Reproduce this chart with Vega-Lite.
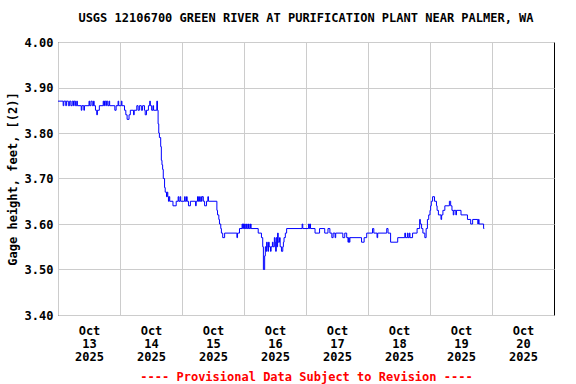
{
"$schema": "https://vega.github.io/schema/vega-lite/v6.json",
"width": 496, "height": 273,
"autosize": {"type": "none"},
"padding": {"left": 58, "top": 42, "right": 22, "bottom": 69},
"background": "white",
"title": {"text": "USGS 12106700 GREEN RIVER AT PURIFICATION PLANT NEAR PALMER, WA", "font": "DejaVu Sans Mono", "fontSize": 12, "fontWeight": "bold", "color": "black", "anchor": "middle", "frame": "group", "offset": 11},
"config": {"view": {"stroke": "black", "strokeWidth": 1}},
"data": {"values": [
{"t":"2025-10-13T00:00","v":3.87},{"t":"2025-10-13T02:00","v":3.86},{"t":"2025-10-13T02:15","v":3.87},{"t":"2025-10-13T03:00","v":3.86},{"t":"2025-10-13T03:15","v":3.87},{"t":"2025-10-13T04:00","v":3.86},{"t":"2025-10-13T04:30","v":3.87},{"t":"2025-10-13T05:00","v":3.86},{"t":"2025-10-13T05:30","v":3.87},{"t":"2025-10-13T06:00","v":3.86},{"t":"2025-10-13T06:15","v":3.87},{"t":"2025-10-13T06:45","v":3.86},{"t":"2025-10-13T07:15","v":3.87},{"t":"2025-10-13T07:30","v":3.86},{"t":"2025-10-13T09:00","v":3.85},{"t":"2025-10-13T09:15","v":3.86},{"t":"2025-10-13T10:00","v":3.85},{"t":"2025-10-13T10:15","v":3.86},{"t":"2025-10-13T12:00","v":3.87},{"t":"2025-10-13T12:15","v":3.86},{"t":"2025-10-13T12:45","v":3.87},{"t":"2025-10-13T13:15","v":3.86},{"t":"2025-10-13T13:45","v":3.87},{"t":"2025-10-13T14:00","v":3.86},{"t":"2025-10-13T14:30","v":3.85},{"t":"2025-10-13T15:00","v":3.84},{"t":"2025-10-13T15:15","v":3.85},{"t":"2025-10-13T16:00","v":3.86},{"t":"2025-10-13T17:30","v":3.87},{"t":"2025-10-13T17:45","v":3.86},{"t":"2025-10-13T18:00","v":3.87},{"t":"2025-10-13T18:30","v":3.86},{"t":"2025-10-13T18:45","v":3.87},{"t":"2025-10-13T19:15","v":3.86},{"t":"2025-10-13T19:45","v":3.87},{"t":"2025-10-13T20:00","v":3.86},{"t":"2025-10-13T22:00","v":3.85},{"t":"2025-10-13T22:30","v":3.86},{"t":"2025-10-13T23:15","v":3.87},{"t":"2025-10-13T23:30","v":3.86},
{"t":"2025-10-14T00:30","v":3.87},{"t":"2025-10-14T00:45","v":3.86},{"t":"2025-10-14T01:45","v":3.85},{"t":"2025-10-14T02:15","v":3.84},{"t":"2025-10-14T02:45","v":3.83},{"t":"2025-10-14T03:30","v":3.84},{"t":"2025-10-14T04:00","v":3.85},{"t":"2025-10-14T05:15","v":3.84},{"t":"2025-10-14T05:30","v":3.85},{"t":"2025-10-14T06:30","v":3.86},{"t":"2025-10-14T07:00","v":3.85},{"t":"2025-10-14T07:30","v":3.86},{"t":"2025-10-14T08:15","v":3.85},{"t":"2025-10-14T08:45","v":3.86},{"t":"2025-10-14T09:30","v":3.85},{"t":"2025-10-14T09:45","v":3.84},{"t":"2025-10-14T10:15","v":3.85},{"t":"2025-10-14T11:00","v":3.86},{"t":"2025-10-14T11:30","v":3.87},{"t":"2025-10-14T11:45","v":3.86},{"t":"2025-10-14T12:15","v":3.85},{"t":"2025-10-14T12:45","v":3.86},{"t":"2025-10-14T13:00","v":3.85},{"t":"2025-10-14T14:15","v":3.87},{"t":"2025-10-14T14:30","v":3.85},{"t":"2025-10-14T14:45","v":3.82},{"t":"2025-10-14T15:00","v":3.80},{"t":"2025-10-14T15:15","v":3.79},{"t":"2025-10-14T15:45","v":3.77},{"t":"2025-10-14T16:00","v":3.74},{"t":"2025-10-14T16:15","v":3.73},{"t":"2025-10-14T16:30","v":3.72},{"t":"2025-10-14T16:45","v":3.70},{"t":"2025-10-14T17:15","v":3.68},{"t":"2025-10-14T17:30","v":3.67},{"t":"2025-10-14T18:00","v":3.66},{"t":"2025-10-14T18:15","v":3.67},{"t":"2025-10-14T18:30","v":3.66},{"t":"2025-10-14T18:45","v":3.65},{"t":"2025-10-14T19:00","v":3.66},{"t":"2025-10-14T19:15","v":3.65},{"t":"2025-10-14T20:30","v":3.64},{"t":"2025-10-14T21:45","v":3.65},{"t":"2025-10-14T22:30","v":3.66},{"t":"2025-10-14T22:45","v":3.65},{"t":"2025-10-14T23:15","v":3.66},{"t":"2025-10-14T23:30","v":3.65},
{"t":"2025-10-15T01:00","v":3.66},{"t":"2025-10-15T01:15","v":3.65},{"t":"2025-10-15T01:45","v":3.66},{"t":"2025-10-15T02:00","v":3.65},{"t":"2025-10-15T02:30","v":3.64},{"t":"2025-10-15T03:15","v":3.65},{"t":"2025-10-15T05:15","v":3.64},{"t":"2025-10-15T05:30","v":3.65},{"t":"2025-10-15T06:00","v":3.66},{"t":"2025-10-15T06:15","v":3.65},{"t":"2025-10-15T06:30","v":3.66},{"t":"2025-10-15T06:45","v":3.65},{"t":"2025-10-15T07:15","v":3.66},{"t":"2025-10-15T07:30","v":3.65},{"t":"2025-10-15T07:45","v":3.66},{"t":"2025-10-15T08:15","v":3.65},{"t":"2025-10-15T08:45","v":3.64},{"t":"2025-10-15T09:30","v":3.65},{"t":"2025-10-15T10:00","v":3.66},{"t":"2025-10-15T10:15","v":3.65},{"t":"2025-10-15T13:30","v":3.63},{"t":"2025-10-15T13:45","v":3.62},{"t":"2025-10-15T14:15","v":3.61},{"t":"2025-10-15T14:30","v":3.60},{"t":"2025-10-15T15:00","v":3.59},{"t":"2025-10-15T15:15","v":3.58},{"t":"2025-10-15T15:45","v":3.57},{"t":"2025-10-15T16:30","v":3.58},{"t":"2025-10-15T21:15","v":3.57},{"t":"2025-10-15T21:30","v":3.58},{"t":"2025-10-15T22:15","v":3.59},{"t":"2025-10-15T23:15","v":3.60},{"t":"2025-10-15T23:30","v":3.59},{"t":"2025-10-15T23:45","v":3.60},
{"t":"2025-10-16T00:00","v":3.59},{"t":"2025-10-16T00:15","v":3.60},{"t":"2025-10-16T00:30","v":3.59},{"t":"2025-10-16T01:00","v":3.60},{"t":"2025-10-16T01:15","v":3.59},{"t":"2025-10-16T01:45","v":3.60},{"t":"2025-10-16T02:00","v":3.59},{"t":"2025-10-16T02:30","v":3.60},{"t":"2025-10-16T02:45","v":3.59},{"t":"2025-10-16T05:30","v":3.58},{"t":"2025-10-16T06:45","v":3.57},{"t":"2025-10-16T07:15","v":3.55},{"t":"2025-10-16T07:30","v":3.50},{"t":"2025-10-16T08:00","v":3.53},{"t":"2025-10-16T08:15","v":3.55},{"t":"2025-10-16T08:30","v":3.54},{"t":"2025-10-16T08:45","v":3.56},{"t":"2025-10-16T09:00","v":3.55},{"t":"2025-10-16T09:15","v":3.54},{"t":"2025-10-16T09:30","v":3.56},{"t":"2025-10-16T09:45","v":3.55},{"t":"2025-10-16T10:15","v":3.54},{"t":"2025-10-16T10:30","v":3.55},{"t":"2025-10-16T11:00","v":3.56},{"t":"2025-10-16T11:15","v":3.55},{"t":"2025-10-16T11:45","v":3.57},{"t":"2025-10-16T12:00","v":3.56},{"t":"2025-10-16T12:15","v":3.54},{"t":"2025-10-16T12:30","v":3.57},{"t":"2025-10-16T12:45","v":3.55},{"t":"2025-10-16T13:00","v":3.58},{"t":"2025-10-16T13:15","v":3.56},{"t":"2025-10-16T13:45","v":3.57},{"t":"2025-10-16T14:00","v":3.55},{"t":"2025-10-16T14:30","v":3.54},{"t":"2025-10-16T15:00","v":3.55},{"t":"2025-10-16T15:15","v":3.56},{"t":"2025-10-16T15:30","v":3.57},{"t":"2025-10-16T16:00","v":3.58},{"t":"2025-10-16T16:30","v":3.59},{"t":"2025-10-16T22:30","v":3.60},{"t":"2025-10-16T22:45","v":3.59},
{"t":"2025-10-17T01:00","v":3.60},{"t":"2025-10-17T01:15","v":3.59},{"t":"2025-10-17T01:30","v":3.60},{"t":"2025-10-17T01:45","v":3.59},{"t":"2025-10-17T03:30","v":3.58},{"t":"2025-10-17T05:15","v":3.59},{"t":"2025-10-17T07:15","v":3.58},{"t":"2025-10-17T08:30","v":3.59},{"t":"2025-10-17T09:15","v":3.58},{"t":"2025-10-17T10:00","v":3.57},{"t":"2025-10-17T10:30","v":3.58},{"t":"2025-10-17T11:15","v":3.57},{"t":"2025-10-17T11:30","v":3.58},{"t":"2025-10-17T14:15","v":3.57},{"t":"2025-10-17T15:00","v":3.58},{"t":"2025-10-17T15:45","v":3.57},{"t":"2025-10-17T16:15","v":3.56},{"t":"2025-10-17T16:30","v":3.57},{"t":"2025-10-17T16:45","v":3.56},{"t":"2025-10-17T17:00","v":3.57},{"t":"2025-10-17T21:30","v":3.56},{"t":"2025-10-17T22:30","v":3.57},{"t":"2025-10-17T23:30","v":3.58},
{"t":"2025-10-18T01:45","v":3.59},{"t":"2025-10-18T02:15","v":3.58},{"t":"2025-10-18T03:30","v":3.57},{"t":"2025-10-18T03:45","v":3.58},{"t":"2025-10-18T07:15","v":3.59},{"t":"2025-10-18T07:45","v":3.58},{"t":"2025-10-18T08:45","v":3.56},{"t":"2025-10-18T11:30","v":3.57},{"t":"2025-10-18T14:15","v":3.58},{"t":"2025-10-18T14:30","v":3.57},{"t":"2025-10-18T15:15","v":3.58},{"t":"2025-10-18T15:30","v":3.57},{"t":"2025-10-18T16:00","v":3.58},{"t":"2025-10-18T16:15","v":3.57},{"t":"2025-10-18T17:15","v":3.58},{"t":"2025-10-18T19:00","v":3.59},{"t":"2025-10-18T20:00","v":3.61},{"t":"2025-10-18T20:15","v":3.60},{"t":"2025-10-18T20:45","v":3.59},{"t":"2025-10-18T21:15","v":3.58},{"t":"2025-10-18T22:00","v":3.57},{"t":"2025-10-18T22:30","v":3.59},{"t":"2025-10-18T23:00","v":3.61},{"t":"2025-10-18T23:30","v":3.62},
{"t":"2025-10-19T00:00","v":3.63},{"t":"2025-10-19T00:15","v":3.64},{"t":"2025-10-19T00:30","v":3.65},{"t":"2025-10-19T01:00","v":3.66},{"t":"2025-10-19T01:45","v":3.65},{"t":"2025-10-19T02:30","v":3.64},{"t":"2025-10-19T02:45","v":3.63},{"t":"2025-10-19T03:15","v":3.62},{"t":"2025-10-19T04:15","v":3.61},{"t":"2025-10-19T04:30","v":3.62},{"t":"2025-10-19T05:00","v":3.63},{"t":"2025-10-19T05:45","v":3.64},{"t":"2025-10-19T07:30","v":3.65},{"t":"2025-10-19T08:00","v":3.64},{"t":"2025-10-19T08:30","v":3.63},{"t":"2025-10-19T09:00","v":3.62},{"t":"2025-10-19T09:15","v":3.63},{"t":"2025-10-19T10:00","v":3.62},{"t":"2025-10-19T10:15","v":3.63},{"t":"2025-10-19T12:00","v":3.62},{"t":"2025-10-19T14:30","v":3.61},{"t":"2025-10-19T15:45","v":3.60},{"t":"2025-10-19T16:30","v":3.61},{"t":"2025-10-19T18:30","v":3.60},{"t":"2025-10-19T18:45","v":3.61},{"t":"2025-10-19T19:00","v":3.60},{"t":"2025-10-19T20:45","v":3.59},{"t":"2025-10-19T21:00","v":3.59}
]},
"mark": {"type": "line", "color": "#0000ff", "strokeWidth": 1, "interpolate": "step-after"},
"encoding": {
"x": {"field": "t", "type": "temporal",
 "scale": {"domain": [{"year": 2025, "month": 10, "date": 13}, {"year": 2025, "month": 10, "date": 21}]},
 "axis": {"values": [{"year": 2025, "month": 10, "date": 13}, {"year": 2025, "month": 10, "date": 14}, {"year": 2025, "month": 10, "date": 15}, {"year": 2025, "month": 10, "date": 16}, {"year": 2025, "month": 10, "date": 17}, {"year": 2025, "month": 10, "date": 18}, {"year": 2025, "month": 10, "date": 19}, {"year": 2025, "month": 10, "date": 20}],
  "labelExpr": "[timeFormat(datum.value, '%b'), timeFormat(datum.value, '%d'), timeFormat(datum.value, '%Y')]",
  "labelOffset": 31, "labelPadding": 10, "labelLineHeight": 13, "labelAlign": "center", "labelBaseline": "top",
  "ticks": false, "domain": false, "grid": true, "gridColor": "#cccccc", "gridWidth": 1, "gridOpacity": 1,
  "labelFont": "DejaVu Sans Mono", "labelFontSize": 12, "labelFontWeight": "bold", "labelColor": "black",
  "labelOverlap": false, "labelBound": false, "labelFlush": false,
  "title": "---- Provisional Data Subject to Revision ----", "titleColor": "#ff0000", "titleFont": "DejaVu Sans Mono", "titleFontSize": 12, "titleFontWeight": "bold", "titlePadding": 9}},
"y": {"field": "v", "type": "quantitative",
 "scale": {"domain": [3.4, 4.0], "zero": false, "nice": false},
 "axis": {"values": [3.4, 3.5, 3.6, 3.7, 3.8, 3.9, 4.0], "format": ".2f", "ticks": false, "domain": false, "grid": true, "gridColor": "#cccccc", "gridWidth": 1, "gridOpacity": 1,
  "labelPadding": 5, "labelFont": "DejaVu Sans Mono", "labelFontSize": 12, "labelFontWeight": "bold", "labelColor": "black",
  "title": "Gage height, feet, [(2)]", "titleColor": "black", "titleFont": "DejaVu Sans Mono", "titleFontSize": 12, "titleFontWeight": "bold", "titlePadding": 5}}
}
}
